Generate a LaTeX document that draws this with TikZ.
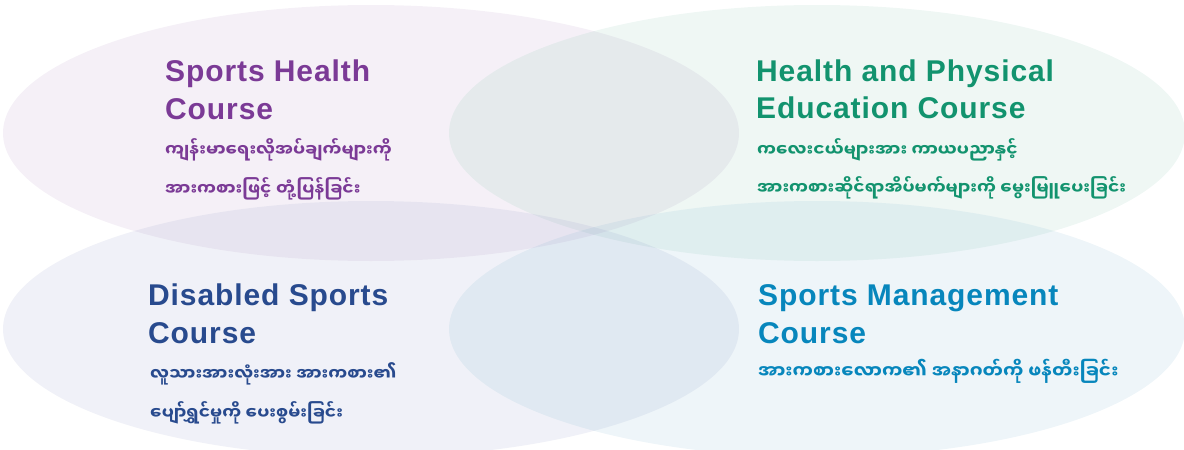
\documentclass[tikz,border=0pt]{standalone}
\usepackage{fontspec}
\setmainfont{Liberation Sans}
\newfontfamily\headfont[LetterSpace=3]{Liberation Sans}
\newfontfamily\myafont[Script=Myanmar]{Noto Sans Myanmar UI}
\definecolor{cpurple}{RGB}{123,58,150}
\definecolor{cgreen}{RGB}{18,147,110}
\definecolor{cblue}{RGB}{40,74,142}
\definecolor{cteal}{RGB}{7,134,188}
\definecolor{fTL}{RGB}{163,122,180}
\definecolor{fTR}{RGB}{105,180,155}
\definecolor{fBL}{RGB}{122,130,188}
\definecolor{fBR}{RGB}{97,163,197}
\tikzset{
  blob/.style={fill=#1, fill opacity=0.11, draw=none},
  headtxt/.style={anchor=base west, inner sep=0pt, font=\headfont\bfseries\fontsize{30}{38}\selectfont, text=#1},
  myatxt/.style={anchor=base west, inner sep=0pt, font=\myafont\bfseries\fontsize{17}{20}\selectfont, text=#1},
  myabig/.style={myatxt=#1, font=\myafont\bfseries\fontsize{18.3}{22}\selectfont}
}
\begin{document}
\begin{tikzpicture}[x=1pt,y=-1pt]
\useasboundingbox (0,0) rectangle (1184,450);
\begin{scope}
\clip (0,0) rectangle (1184,450);
\fill[blob=fTL] (371,133) ellipse [x radius=368, y radius=128];
\fill[blob=fTR] (817,133) ellipse [x radius=368, y radius=128];
\fill[blob=fBL] (371,329) ellipse [x radius=368, y radius=128];
\fill[blob=fBR] (817,329) ellipse [x radius=368, y radius=128];
\end{scope}
% Top left
\node[headtxt=cpurple] (tl1) at (165,81) {Sports Health};
\node[headtxt=cpurple] (tl2) at (165,119) {Course};
\node[myatxt=cpurple] (tl3) at (165,156) {ကျန်းမာရေးလိုအပ်ချက်များကို};
\node[myatxt=cpurple] (tl4) at (165,195) {အားကစားဖြင့် တုံ့ပြန်ခြင်း};
% Top right
\node[headtxt=cgreen] (tr1) at (756,81) {Health and Physical};
\node[headtxt=cgreen] (tr2) at (756,118) {Education Course};
\node[myatxt=cgreen] (tr3) at (757,156) {ကလေးငယ်များအား ကာယပညာနှင့်};
\node[myatxt=cgreen] (tr4) at (757,194) {အားကစားဆိုင်ရာအိပ်မက်များကို မွေးမြူပေးခြင်း};
% Bottom left
\node[headtxt=cblue] (bl1) at (148,305) {Disabled Sports};
\node[headtxt=cblue] (bl2) at (148,343) {Course};
\node[myatxt=cblue] (bl3) at (150,380) {လူသားအားလုံးအား အားကစား၏};
\node[myatxt=cblue] (bl4) at (150,419) {ပျော်ရွှင်မှုကို ပေးစွမ်းခြင်း};
% Bottom right
\node[headtxt=cteal] (br1) at (758,305) {Sports Management};
\node[headtxt=cteal] (br2) at (758,343) {Course};
\node[myabig=cteal] (br3) at (758,378) {အားကစားလောက၏ အနာဂတ်ကို ဖန်တီးခြင်း};
\end{tikzpicture}
\end{document}
